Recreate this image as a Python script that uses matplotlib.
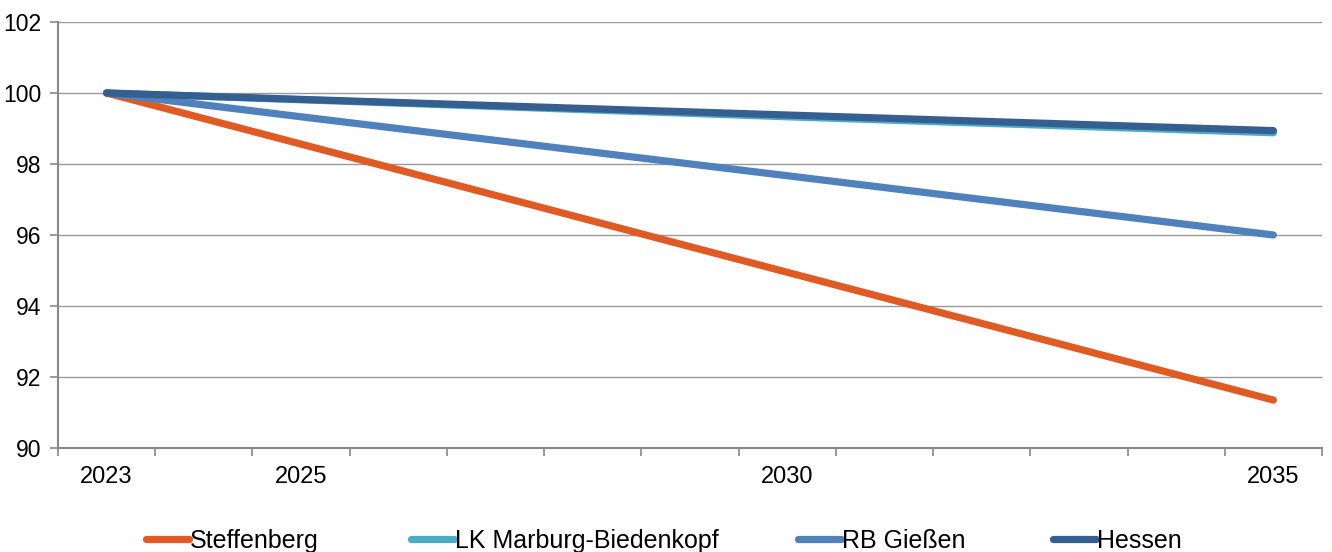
import numpy as np
import matplotlib.pyplot as plt
import matplotlib as mpl
from matplotlib.lines import Line2D

mpl.rcParams['font.family'] = ['Liberation Sans Narrow', 'Liberation Sans', 'DejaVu Sans']

all_years = list(range(2023, 2036))
label_years = [2023, 2025, 2030, 2035]

years = [2023, 2025, 2030, 2035]
steffenberg = [100.0, 98.56, 94.95, 91.35]
lk_marburg = [100.0, 99.81, 99.33, 98.88]
rb_giessen = [100.0, 99.33, 97.67, 96.0]
hessen = [100.0, 99.82, 99.38, 98.94]

series = [
    ('Steffenberg', steffenberg, '#E05A24'),
    ('LK Marburg-Biedenkopf', lk_marburg, '#4BACC6'),
    ('RB Gießen', rb_giessen, '#4F81BD'),
    ('Hessen', hessen, '#355F91'),
]

fig = plt.figure(figsize=(13.32, 5.52), dpi=100, facecolor='white')
ax = fig.add_axes([58/1332, 1-448/552, (1322-58)/1332, (448-22)/552])

pos = [all_years.index(y) for y in years]
for name, vals, col in series:
    ax.plot(pos, vals, color=col, lw=5.2, label=name, solid_capstyle='round')

ax.set_ylim(90, 102)
ax.set_yticks(np.arange(90, 103, 2))
ax.set_xlim(-0.5, len(all_years) - 0.5)
ax.set_xticks(np.arange(-0.5, len(all_years), 1.0))
ax.set_xticklabels([])
ax.set_xticks([all_years.index(y) for y in label_years], minor=True)
ax.set_xticklabels([str(y) for y in label_years], minor=True)
ax.tick_params(axis='x', which='major', length=6, color='#888888', width=1.2)
ax.tick_params(axis='x', which='minor', length=0, labelsize=17, pad=13)
ax.tick_params(axis='y', length=6, color='#888888', width=1.2, labelsize=16.5, pad=6)

ax.grid(axis='y', color='#999999', lw=1)
ax.set_axisbelow(True)
for sp in ['top', 'right']:
    ax.spines[sp].set_visible(False)
for sp in ['left', 'bottom']:
    ax.spines[sp].set_color('#888888')
    ax.spines[sp].set_linewidth(1.5)

# legend entries placed one by one, like the original
leg_x = [148, 413, 800, 1055]
for (name, vals, col), lx in zip(series, leg_x):
    h = Line2D([], [], color=col, lw=5.2, solid_capstyle='round')
    fig.legend([h], [name], loc='center left', bbox_to_anchor=((lx - 2)/1332, 1-541/552),
               frameon=False, fontsize=18, handlelength=1.7, handletextpad=0.05,
               borderpad=0, borderaxespad=0)

plt.savefig('out.png', dpi=100, facecolor='white')
